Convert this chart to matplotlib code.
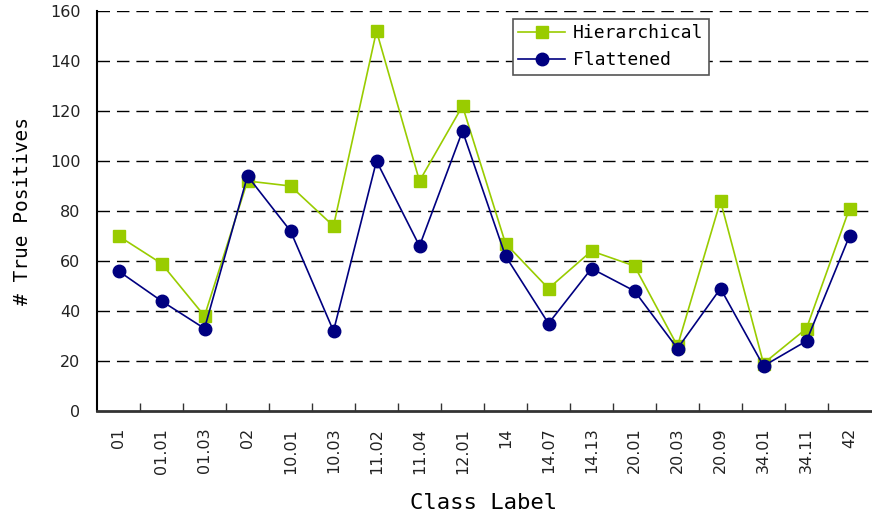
import numpy as np
import matplotlib.pyplot as plt

labels = ['01', '01.01', '01.03', '02', '10.01', '10.03', '11.02', '11.04', '12.01',
          '14', '14.07', '14.13', '20.01', '20.03', '20.09', '34.01', '34.11', '42']
hierarchical = [70, 59, 38, 92, 90, 74, 152, 92, 122, 67, 49, 64, 58, 26, 84, 19, 33, 81]
flattened = [56, 44, 33, 94, 72, 32, 100, 66, 112, 62, 35, 57, 48, 25, 49, 18, 28, 70]

mono = 'DejaVu Sans Mono'

fig = plt.figure(figsize=(8.72, 5.18), dpi=100)
ax = fig.add_axes([97/872, 1 - 411/518, 774/872, 400/518])

x = np.arange(len(labels))
ax.plot(x, hierarchical, color='#99cc00', marker='s', markersize=9, linewidth=1.2,
        label='Hierarchical')
ax.plot(x, flattened, color='#000080', marker='o', markersize=9, linewidth=1.2,
        label='Flattened')

ax.set_xlim(-0.5, len(labels) - 0.5)
ax.set_ylim(0, 160)
ax.set_yticks(np.arange(0, 161, 20))
for y in range(20, 161, 20):
    ax.axhline(y, color='black', linestyle=(0, (9, 5)), linewidth=1, zorder=0)

# category ticks sit between labels
ax.set_xticks(x)
ax.set_xticklabels(labels, rotation=90, fontsize=11.5, color='#222222')
ax.tick_params(axis='x', length=0, pad=12)
ax.set_xticks(np.arange(0.5, len(labels) - 1, 1), minor=True)
ax.tick_params(axis='x', which='minor', direction='in', length=6, width=1, color='#333333')
ax.tick_params(axis='y', length=0, labelsize=11.5, labelcolor='#222222', pad=12)

for s in ['top', 'right']:
    ax.spines[s].set_visible(False)
ax.spines['left'].set_linewidth(1.5)
ax.spines['bottom'].set_linewidth(2)
ax.spines['bottom'].set_color('#333333')

ax.set_ylabel('# True Positives', fontsize=14, family=mono, labelpad=13)
ax.set_xlabel('Class Label', fontsize=16, family=mono, labelpad=14)

leg = ax.legend(loc='upper left', bbox_to_anchor=(0.537, 0.98), prop={'family': mono, 'size': 13},
                fancybox=False, framealpha=1, edgecolor='#555555', borderpad=0.3,
                labelspacing=0.5, handlelength=2.6, handletextpad=0.45, borderaxespad=0)
leg.get_frame().set_linewidth(1.2)

fig.savefig('out.png', dpi=100)
